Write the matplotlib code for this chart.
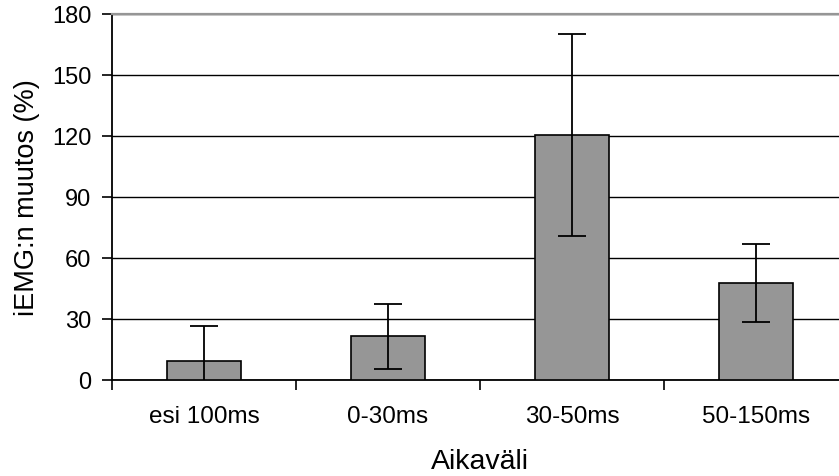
import numpy as np
import matplotlib.pyplot as plt

plt.rcParams['font.family'] = ['Liberation Sans', 'DejaVu Sans']

# Mean change of iEMG per time window, with error bars
labels = ['esi 100ms', '0-30ms', '30-50ms', '50-150ms']
means = [9.5, 21.5, 120.5, 47.5]
errors = [17.0, 16.0, 49.7, 19.2]

fig = plt.figure(figsize=(8.39, 4.77), dpi=100)
ax = fig.add_axes([112/839, 96/477, 736/839, 366/477])

x = np.arange(len(labels))
ax.bar(x, means, width=0.4, color='#969696', edgecolor='black', linewidth=1.2, zorder=3)
ax.errorbar(x, means, yerr=errors, fmt='none', ecolor='black', elinewidth=1.3,
            capsize=10, capthick=1.3, zorder=4)

ax.set_xlim(-0.5, len(labels) - 0.5)
ax.set_ylim(0, 180)
ax.set_yticks(np.arange(0, 181, 30))
ax.yaxis.grid(True, color='black', linewidth=1.0)
ax.set_axisbelow(True)

# category labels centred, ticks between categories
ax.set_xticks(x)
ax.set_xticklabels(labels)
ax.tick_params(axis='x', length=0, pad=18, labelsize=17.5)
ax.set_xticks(np.arange(-0.5, len(labels)), minor=True)
ax.tick_params(axis='x', which='minor', direction='out', length=7, width=1.2)
ax.tick_params(axis='y', direction='out', length=7, width=1.2, labelsize=17, pad=8)

for side in ['left', 'bottom']:
    ax.spines[side].set_linewidth(1.3)
ax.spines['top'].set_color('#969696')
ax.spines['top'].set_linewidth(1.6)
ax.spines['right'].set_visible(False)

ax.set_xlabel('Aikaväli', fontsize=20.5, va='center')
ax.set_ylabel('iEMG:n muutos (%)', fontsize=19.5, va='center')
ax.xaxis.set_label_coords(0.5, -0.222)
ax.yaxis.set_label_coords(-0.115, 0.5)

fig.savefig('out.png', dpi=100)
